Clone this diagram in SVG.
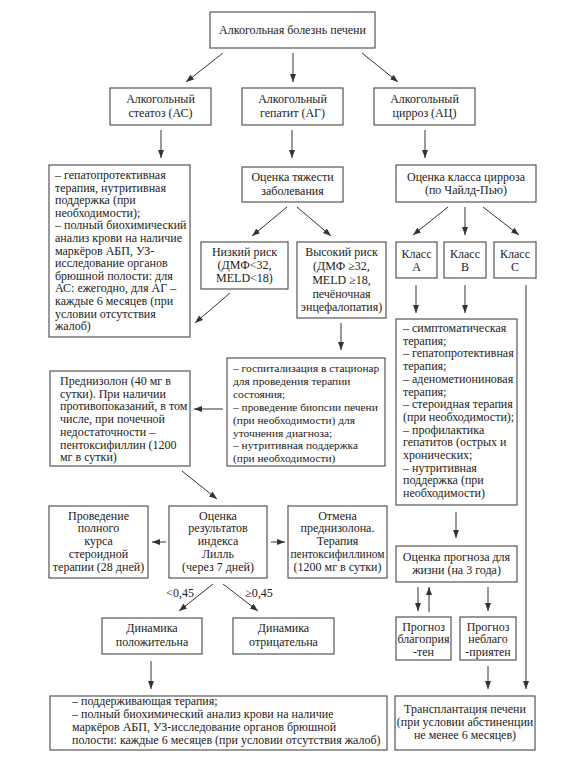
<svg xmlns="http://www.w3.org/2000/svg" width="586" height="776" viewBox="0 0 586 776">
<defs>
<marker id="ah" viewBox="0 0 8 6" markerWidth="8" markerHeight="6" refX="8" refY="3" orient="auto" markerUnits="userSpaceOnUse"><path d="M0,0 L8,3 L0,6 z" fill="#333"/></marker>
<style>
.b{fill:#fff;stroke:#555;stroke-width:1.2}
text{font-family:"Liberation Serif","Times New Roman",serif;font-size:12px;fill:#222}
.c{text-anchor:middle}
.s text{font-size:11.4px}
.e line{stroke:#333;stroke-width:1;marker-end:url(#ah)}
</style>
</defs>
<rect width="586" height="776" fill="#fff"/>
<g class="e" id="connectors">
<line x1="223" y1="53" x2="186" y2="82"/>
<line x1="293" y1="53" x2="293" y2="82"/>
<line x1="362" y1="53" x2="398" y2="82"/>
<line x1="161" y1="130" x2="161" y2="158"/>
<line x1="292" y1="130" x2="292" y2="158"/>
<line x1="425" y1="130" x2="425" y2="158"/>
<line x1="287" y1="207" x2="252" y2="236"/>
<line x1="297" y1="207" x2="331" y2="236"/>
<line x1="230" y1="293" x2="195" y2="323"/>
<line x1="448" y1="207" x2="413" y2="235"/>
<line x1="465" y1="207" x2="465" y2="235"/>
<line x1="483" y1="207" x2="519" y2="235"/>
<line x1="416" y1="285" x2="416" y2="313"/>
<line x1="465" y1="285" x2="465" y2="313"/>
<line x1="526" y1="285" x2="526" y2="689" style="stroke:#666;stroke-width:1.3"/>
<line x1="341" y1="323" x2="341" y2="350"/>
<line x1="223" y1="409" x2="194" y2="409"/>
<line x1="182" y1="471" x2="217" y2="499"/>
<line x1="166" y1="542" x2="152" y2="542"/>
<line x1="271" y1="542" x2="285" y2="542"/>
<line x1="213" y1="584" x2="179" y2="611"/>
<line x1="223" y1="584" x2="258" y2="611"/>
<line x1="151" y1="661" x2="151" y2="689"/>
<line x1="456" y1="512" x2="456" y2="538"/>
<line x1="418" y1="587" x2="418" y2="611"/>
<line x1="429" y1="612" x2="429" y2="587"/>
<line x1="488" y1="587" x2="488" y2="611"/>
<line x1="488" y1="666" x2="488" y2="689"/>
</g>
<g id="n-root"><rect class="b" x="210" y="12" width="165" height="36"/><text class="c" x="292.5" y="34">Алкогольная болезнь печени</text></g>
<g id="n-as"><rect class="b" x="110" y="88" width="101" height="37"/><text class="c" x="160.5" y="103">Алкогольный</text><text class="c" x="160.5" y="117">стеатоз (АС)</text></g>
<g id="n-ag"><rect class="b" x="242" y="88" width="101" height="37"/><text class="c" x="292.5" y="103">Алкогольный</text><text class="c" x="292.5" y="117">гепатит (АГ)</text></g>
<g id="n-ac"><rect class="b" x="374" y="88" width="101" height="37"/><text class="c" x="424.5" y="103">Алкогольный</text><text class="c" x="424.5" y="117">цирроз (АЦ)</text></g>
<g id="n-as-tx"><rect class="b" x="49" y="165" width="141" height="172"/>
<text x="55" y="179">– гепатопротективная</text>
<text x="55" y="191.6">терапия, нутритивная</text>
<text x="55" y="204.2">поддержка (при</text>
<text x="55" y="216.8">необходимости);</text>
<text x="55" y="229.4">– полный биохимический</text>
<text x="55" y="242">анализ крови на наличие</text>
<text x="55" y="254.6">маркёров АБП, УЗ-</text>
<text x="55" y="267.2">исследование органов</text>
<text x="55" y="279.8">брюшной полости: для</text>
<text x="55" y="292.4">АС: ежегодно, для АГ –</text>
<text x="55" y="305">каждые 6 месяцев (при</text>
<text x="55" y="317.6">условии отсутствия</text>
<text x="55" y="330.2">жалоб)</text></g>
<g id="n-sev"><rect class="b" x="242" y="167" width="101" height="35"/><text class="c" x="292.5" y="180.5">Оценка тяжести</text><text class="c" x="292.5" y="194.5">заболевания</text></g>
<g id="n-cls"><rect class="b" x="396" y="165" width="140" height="37"/><text class="c" x="466" y="180.5">Оценка класса цирроза</text><text class="c" x="466" y="194">(по Чайлд-Пью)</text></g>
<g id="n-low"><rect class="b" x="201" y="242" width="87" height="47"/><text class="c" x="244.5" y="255.5">Низкий риск</text><text class="c" x="244.5" y="268.5">(ДМФ&lt;32,</text><text class="c" x="244.5" y="281.5">MELD&lt;18)</text></g>
<g id="n-high"><rect class="b" x="297" y="242" width="89" height="76"/><text class="c" x="341.5" y="256">Высокий риск</text><text class="c" x="341.5" y="270">(ДМФ ≥32,</text><text class="c" x="341.5" y="284">MELD ≥18,</text><text class="c" x="341.5" y="298">печёночная</text><text class="c" x="341.5" y="311">энцефалопатия)</text></g>
<g id="n-a"><rect class="b" x="396" y="242" width="41" height="36"/><text class="c" x="416.5" y="257.5">Класс</text><text class="c" x="416.5" y="270.5">A</text></g>
<g id="n-b"><rect class="b" x="444" y="242" width="42" height="36"/><text class="c" x="465" y="257.5">Класс</text><text class="c" x="465" y="270.5">B</text></g>
<g id="n-c"><rect class="b" x="494" y="242" width="42" height="36"/><text class="c" x="515" y="257.5">Класс</text><text class="c" x="515" y="270.5">C</text></g>
<g id="n-sym"><rect class="b" x="396" y="319" width="121" height="186"/>
<text x="403" y="332">– симптоматическая</text>
<text x="403" y="344.7">терапия;</text>
<text x="403" y="357.4">– гепатопротективная</text>
<text x="403" y="370.1">терапия;</text>
<text x="403" y="382.8">– аденометиониновая</text>
<text x="403" y="395.5">терапия;</text>
<text x="403" y="408.2">– стероидная терапия</text>
<text x="403" y="420.9">(при необходимости);</text>
<text x="403" y="433.6">– профилактика</text>
<text x="403" y="446.3">гепатитов (острых и</text>
<text x="403" y="459">хронических;</text>
<text x="403" y="471.7">– нутритивная</text>
<text x="403" y="484.4">поддержка (при</text>
<text x="403" y="497.1">необходимости)</text></g>
<g id="n-hosp" class="s"><rect class="b" x="227" y="358" width="158" height="108"/>
<text x="233" y="372">– госпитализация в стационар</text>
<text x="233" y="384.9">для проведения терапии</text>
<text x="233" y="397.8">состояния;</text>
<text x="233" y="410.7">– проведение биопсии печени</text>
<text x="233" y="423.6">(при необходимости) для</text>
<text x="233" y="436.5">уточнения диагноза;</text>
<text x="233" y="449.4">– нутритивная поддержка</text>
<text x="233" y="462.3">(при необходимости)</text></g>
<g id="n-pred"><rect class="b" x="50" y="371" width="140" height="95"/>
<text x="60" y="385">Преднизолон (40 мг в</text>
<text x="60" y="397.7">сутки). При наличии</text>
<text x="60" y="410.4">противопоказаний, в том</text>
<text x="60" y="423.1">числе, при почечной</text>
<text x="60" y="435.8">недостаточности –</text>
<text x="60" y="448.5">пентоксифиллин (1200</text>
<text x="60" y="461.2">мг в сутки)</text></g>
<g id="n-full"><rect class="b" x="49" y="506" width="99" height="72"/><text class="c" x="98.5" y="519.5">Проведение</text><text class="c" x="98.5" y="532.3">полного</text><text class="c" x="98.5" y="545">курса</text><text class="c" x="98.5" y="557.8">стероидной</text><text class="c" x="98.5" y="570.5">терапии (28 дней)</text></g>
<g id="n-lille"><rect class="b" x="169" y="506" width="98" height="72"/><text class="c" x="218" y="519.5">Оценка</text><text class="c" x="218" y="532.3">результатов</text><text class="c" x="218" y="545">индекса</text><text class="c" x="218" y="557.8">Лилль</text><text class="c" x="218" y="570.5">(через 7 дней)</text></g>
<g id="n-stop"><rect class="b" x="288" y="506" width="99" height="72"/><text class="c" x="337.5" y="519.5">Отмена</text><text class="c" x="337.5" y="532.3">преднизолона.</text><text class="c" x="337.5" y="545">Терапия</text><text class="c" x="337.5" y="557.8" textLength="94" lengthAdjust="spacingAndGlyphs">пентоксифиллином</text><text class="c" x="337.5" y="570.5">(1200 мг в сутки)</text></g>
<g id="labels"><text class="c" x="180" y="597">&lt;0,45</text><text class="c" x="259" y="597">≥0,45</text></g>
<g id="n-pos"><rect class="b" x="102" y="618" width="100" height="36"/><text class="c" x="152" y="632">Динамика</text><text class="c" x="152" y="646">положительна</text></g>
<g id="n-neg"><rect class="b" x="233" y="618" width="101" height="36"/><text class="c" x="283.5" y="632">Динамика</text><text class="c" x="283.5" y="646">отрицательна</text></g>
<g id="n-prog"><rect class="b" x="396" y="546" width="121" height="36"/><text class="c" x="456.5" y="560.5">Оценка прогноза для</text><text class="c" x="456.5" y="573.5">жизни (на 3 года)</text></g>
<g id="n-good"><rect class="b" x="396" y="617" width="55" height="43"/><text class="c" x="423.5" y="630.5">Прогноз</text><text class="c" x="423.5" y="643">благоприя</text><text class="c" x="423.5" y="655.5">-тен</text></g>
<g id="n-bad"><rect class="b" x="460" y="617" width="56" height="43"/><text class="c" x="488" y="630.5">Прогноз</text><text class="c" x="488" y="643">неблаго</text><text class="c" x="488" y="655.5">-приятен</text></g>
<g id="n-maint"><rect class="b" x="50" y="696" width="337" height="54"/>
<text x="72" y="705">– поддерживающая терапия;</text>
<text x="72" y="718">– полный биохимический анализ крови на наличие</text>
<text x="72" y="731">маркёров АБП, УЗ-исследование органов брюшной</text>
<text x="72" y="744">полости: каждые 6 месяцев (при условии отсутствия жалоб)</text></g>
<g id="n-tx"><rect class="b" x="395" y="696" width="140" height="54"/><text class="c" x="465" y="712.5">Трансплантация печени</text><text class="c" x="465" y="725.5">(при условии абстиненции</text><text class="c" x="465" y="738.5">не менее 6 месяцев)</text></g>
</svg>
